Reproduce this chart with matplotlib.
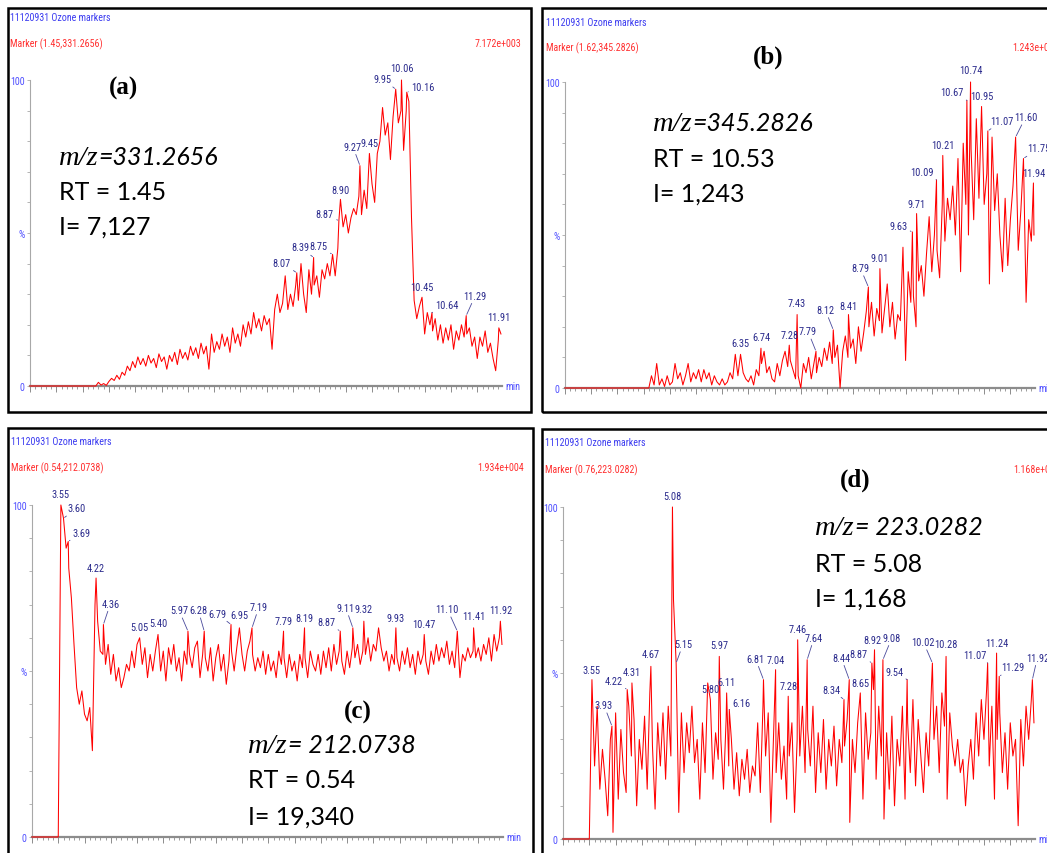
import numpy as np
import matplotlib
matplotlib.use('Agg')
import matplotlib.pyplot as plt
from matplotlib.patches import Rectangle
from matplotlib import font_manager

W, H = 1047, 854

# common time axis of the runs (min)
run_start, run_end = 3.0, 11.97
scan_step = 0.05

# (a) m/z 331.2656 - intensities (%) on the scan grid from a_start
a_start = 4.25
a_int = [0, 1.2, 0.3, 0.8, 0.2, 1.5, 2.5, 1.8, 3.5, 2.2,
         4.5, 3.5, 6.5, 5, 8, 6, 9.5, 7, 9, 6.5,
         10, 7.5, 9, 6, 10.5, 8, 9.5, 5.5, 10, 8,
         11, 7, 12, 9, 11, 8.5, 13, 10, 12.5, 9,
         14, 10.5, 13, 5.5, 17, 11, 14.5, 12, 17, 13,
         16, 11, 19, 14, 17, 13, 20, 16, 21, 17,
         24, 19, 22, 18, 23, 20, 22, 12, 25, 30,
         24, 27, 36, 25, 30, 26, 33, 28, 40, 30,
         24, 38, 30, 33, 36, 29, 38, 35, 40, 36,
         38, 36, 45, 55, 52, 56, 50, 55, 58, 56,
         62, 56, 64, 58, 66, 66, 60, 76, 80, 91,
         82, 86, 74, 88, 90, 86, 90, 77, 90, 93,
         55, 28, 22, 26, 25, 17, 24, 20, 18, 22,
         15, 20, 14, 19, 15, 20, 12, 18, 15, 20,
         16, 17, 19, 13, 16, 9, 16, 13, 18, 11,
         14, 9, 5, 15, 17]
a_pk_t = [8.07, 8.39, 8.75, 8.87, 8.90, 9.27, 9.45, 9.95, 10.06, 10.16, 10.45, 10.64, 11.29, 11.91]
a_pk_i = [37, 42, 43, 54, 61, 72, 76, 97, 100, 96, 29, 24, 23, 19]

# (b) m/z 345.2826
b_start = 4.60
b_int = [0, 4, 1, 8, 1, 3, 0.5, 4, 1, 2,
         8, 3, 5, 1, 4, 8, 2, 5, 3, 6,
         2, 6, 3, 5, 1, 4, 2, 1, 3, 1,
         2, 5, 3, 11, 4, 6, 5, 3, 2, 4,
         1, 6, 4, 8, 12, 5, 7, 3, 2, 8,
         4, 9, 12, 7, 9, 6, 3, 4, 0, 8,
         5, 10, 3, 8, 5, 10, 7, 13, 9, 15,
         8, 10, 14, 0, 12, 17, 10, 13, 16, 8,
         20, 12, 18, 25, 20, 28, 17, 26, 22, 18,
         26, 34, 20, 28, 16, 24, 22, 46, 9, 38,
         28, 30, 20, 35, 40, 30, 44, 56, 38, 50,
         45, 36, 60, 48, 62, 55, 66, 50, 75, 38,
         80, 60, 50, 78, 55, 88, 62, 70, 60, 70,
         34, 82, 58, 70, 50, 38, 62, 40, 55, 66,
         60, 45, 58, 60, 28, 55, 48, 50]
b_pk_t = [6.35, 6.74, 7.28, 7.43, 7.79, 8.12, 8.41, 8.79, 9.01, 9.63, 9.71, 10.09, 10.21,
          10.67, 10.74, 10.95, 11.07, 11.60, 11.75, 11.94]
b_pk_i = [11, 13, 14, 24, 12, 19, 24, 33, 39, 51, 57, 68, 76, 94, 100, 92, 84, 82, 75, 67]

# (c) m/z 212.0738
c_start = 3.50
c_int = [0, 100, 96, 87, 81, 72, 58, 45, 40, 44,
         37, 35, 39, 26, 70, 65, 56, 55, 52, 58,
         49, 55, 47, 51, 45, 48, 52, 50, 56, 51,
         58, 55, 52, 57, 48, 55, 50, 56, 55, 50,
         56, 47, 57, 52, 58, 50, 54, 47, 56, 52,
         55, 51, 57, 59, 48, 55, 54, 50, 57, 47,
         54, 58, 50, 55, 46, 53, 56, 50, 57, 55,
         55, 50, 56, 59, 55, 50, 54, 51, 56, 49,
         55, 50, 53, 48, 56, 52, 54, 48, 55, 50,
         53, 47, 55, 51, 54, 48, 56, 52, 50, 55,
         49, 56, 51, 57, 50, 58, 52, 56, 53, 49,
         56, 51, 57, 54, 58, 52, 56, 55, 60, 53,
         58, 56, 63, 57, 53, 56, 50, 55, 52, 54,
         50, 56, 52, 57, 51, 55, 49, 56, 52, 55,
         53, 49, 56, 52, 58, 53, 57, 54, 59, 52,
         56, 51, 55, 48, 55, 53, 57, 54, 56, 54,
         57, 53, 58, 55, 60, 53, 61, 56, 60, 58]
c_pk_t = [3.55, 3.60, 3.69, 4.22, 4.36, 5.05, 5.40, 5.97, 6.28, 6.79, 6.95, 7.19, 7.79, 8.19,
          8.87, 9.11, 9.32, 9.93, 10.47, 11.10, 11.41, 11.92]
c_pk_i = [100, 96, 89, 78, 64, 60, 61, 62, 62, 64, 63, 63, 62, 63, 62, 63, 65, 63, 61, 62, 63, 65]

# (d) m/z 223.0282
d_start = 3.50
d_int = [0, 40, 22, 40, 15, 27, 18, 7, 30, 2,
         38, 12, 33, 20, 14, 40, 25, 36, 10, 30,
         21, 37, 15, 44, 28, 9, 35, 22, 38, 18,
         40, 25, 72, 30, 8, 38, 20, 35, 26, 40,
         23, 30, 12, 35, 20, 47, 25, 18, 32, 24,
         30, 15, 36, 22, 30, 15, 26, 13, 24, 18,
         27, 14, 22, 19, 35, 14, 40, 25, 38, 5,
         30, 20, 35, 18, 28, 12, 25, 35, 8, 30,
         25, 40, 20, 33, 22, 40, 14, 32, 20, 36,
         15, 30, 22, 34, 16, 30, 23, 28, 36, 5,
         30, 20, 35, 28, 12, 38, 24, 32, 45, 18,
         40, 25, 6, 32, 15, 37, 10, 30, 22, 40,
         12, 35, 20, 42, 16, 36, 25, 14, 32, 22,
         45, 30, 40, 20, 44, 34, 12, 38, 28, 22,
         30, 20, 24, 10, 22, 30, 18, 38, 25, 42,
         30, 45, 22, 40, 12, 30, 38, 20, 32, 15,
         35, 25, 30, 4, 36, 22, 40, 30, 42, 35]
d_pk_t = [3.55, 3.93, 4.22, 4.31, 4.67, 5.08, 5.15, 5.80, 5.97, 6.11, 6.16, 6.81, 7.04, 7.28,
          7.46, 7.64, 8.34, 8.44, 8.65, 8.87, 8.92, 9.08, 9.54, 10.02, 10.28, 11.07, 11.24,
          11.29, 11.92]
d_pk_i = [48, 34, 45, 47, 52, 100, 53, 42, 55, 44, 39, 48, 51, 43, 60, 54, 42, 48, 44, 53,
          57, 54, 48, 53, 55, 53, 56, 49, 48]

tags = ['(a)', '(b)', '(c)', '(d)']
mz_text = ['=331.2656', '=345.2826', '= 212.0738', '= 223.0282']
rt_text = ['1.45', '10.53', '0.54', '5.08']
int_text = ['7,127', '1,243', '19,340', '1,168']
marker_text = ['Marker (1.45,331.2656)', 'Marker (1.62,345.2826)',
               'Marker (0.54,212.0738)', 'Marker (0.76,223.0282)']
scale_text = ['7.172e+003', '1.243e+003', '1.934e+004', '1.168e+003']
run_name = '11120931 Ozone markers'

# label offsets in pixels (dx, dy, leader line)
a_lab = [(-15, 10, 1), (-13, 10, 1), (-14, 8, 1), (-14, 7, 1), (0, 9, 0), (-7, 19, 1), (0, 10, 0),
         (-13, 10, 1), (0, 12, 0), (16, 5, 1), (0, 10, 0), (15, 8, 1), (9, 20, 1), (0, 11, 0)]
b_lab = [(0, 11, 0), (0, 11, 0), (0, 10, 0), (0, 12, 0), (-8, 20, 1), (-8, 20, 1), (0, 9, 0),
         (-8, 19, 1), (0, 11, 0), (-14, 6, 1), (0, 10, 0), (-15, 8, 1), (0, 10, 0), (-15, 8, 1),
         (0, 12, 0), (0, 10, 0), (14, 10, 1), (10, 20, 1), (15, 10, 1), (0, 10, 0)]
c_lab = [(0, 11, 0), (13, 10, 1), (13, 9, 1), (0, 10, 0), (7, 21, 1), (0, 11, 0), (0, 11, 0),
         (-9, 21, 1), (-6, 21, 1), (-14, 11, 1), (0, 13, 0), (7, 21, 1), (0, 10, 0), (0, 10, 0),
         (-14, 9, 1), (-7, 20, 1), (0, 12, 0), (0, 10, 0), (0, 10, 0), (-10, 22, 1), (0, 12, 0),
         (0, 11, 0)]
d_lab = [(0, 10, 0), (-8, 21, 1), (-13, 9, 1), (0, 11, 0), (0, 12, 0), (0, 11, 0), (7, 19, 1),
         (0, 11, 0), (0, 11, 0), (0, 11, 0), (12, 7, 1), (-8, 21, 1), (0, 10, 0), (0, 10, 0),
         (0, 11, 0), (7, 22, 1), (-13, 10, 1), (-8, 22, 1), (0, 10, 0), (-13, 9, 1), (-2, 10, 0),
         (9, 22, 1), (-13, 8, 1), (-9, 21, 1), (0, 12, 0), (-13, 8, 1), (0, 10, 0), (14, 9, 1),
         (5, 22, 1)]

# instrument-style labels use a narrow face when there is one
installed = {f.name for f in font_manager.fontManager.ttflist}
narrow_found = [n for n in ('Liberation Sans Narrow', 'Roboto Condensed', 'Arial Narrow') if n in installed]
narrow = narrow_found[0] if narrow_found else 'Liberation Sans'
small = 7.5 if narrow_found else 6.4

blue = '#3c3cf0'
navy = '#2a2a8c'
red = '#ff0000'
axis_grey = '#8c8c8c'


def fx(px):
    return px / W


def fy(py):
    return 1 - py / H


def build_trace(start, vals, pk_t, pk_i):
    vals = np.asarray(vals, float)
    t = np.round(start + scan_step * np.arange(len(vals)), 2)
    keep = ~np.isin(t, np.round(pk_t, 2))
    t = np.r_[run_start, t[keep], pk_t]
    y = np.r_[0.0, vals[keep], pk_i]
    order = np.argsort(t, kind='stable')
    return t[order], y[order]


fig = plt.figure(figsize=(W / 100, H / 100), dpi=100)

# panel frames
for x0, y0, x1, y1 in [(8, 9, 531, 413), (542, 9, 1070, 413), (8, 429, 533, 880), (542, 430, 1070, 880)]:
    fig.add_artist(Rectangle((fx(x0), fy(y1)), fx(x1) - fx(x0), (y1 - y0) / H,
                             transform=fig.transFigure, fill=False, ec='black', lw=1.8))

axes_px = [(30, 502, 81, 387), (565, 1035, 83, 389), (32, 503, 506, 838), (563, 1035, 508, 840)]
head_px = [(10, 18, 44, 521, 'right'), (546, 23, 48, 1012, 'left'),
           (11, 442, 468, 524, 'right'), (545, 443, 470, 1013, 'left')]
info_px = [((123, 88), 59, (165, 200, 235)), ((768, 57), 653, (131, 167, 202)),
           ((358, 712), 248, (753, 788, 825)), ((855, 480), 815, (535, 572, 607))]

series = [(a_start, a_int, a_pk_t, a_pk_i, a_lab),
          (b_start, b_int, b_pk_t, b_pk_i, b_lab),
          (c_start, c_int, c_pk_t, c_pk_i, c_lab),
          (d_start, d_int, d_pk_t, d_pk_i, d_lab)]

mz_parts = []
for k in range(4):
    x0, x1, ytop, ybot = axes_px[k]
    ax = fig.add_axes([fx(x0), fy(ybot), (x1 - x0) / W, (ybot - ytop) / H])
    ax.set_xlim(run_start, run_end)
    ax.set_ylim(0, 100)
    ax.spines['top'].set_visible(False)
    ax.spines['right'].set_visible(False)
    ax.spines['bottom'].set_color(axis_grey)
    ax.spines['bottom'].set_linewidth(1.6)
    ax.spines['left'].set_color('#a8a8a8')
    ax.spines['left'].set_linewidth(0.8)
    ax.set_xticks(np.arange(3.0, 12.0, 0.5))
    ax.set_xticks(np.arange(3.0, 12.0, 0.1), minor=True)
    ax.set_yticks([0, 50, 100])
    ax.set_yticklabels(['0', '%', '100'])
    ax.set_yticks(np.arange(0, 101, 10), minor=True)
    ax.tick_params(axis='x', which='major', length=4.5, width=0.7, color=axis_grey, labelbottom=False)
    ax.tick_params(axis='x', which='minor', length=2.5, width=0.6, color=axis_grey)
    ax.tick_params(axis='y', which='both', length=2.2, width=0.6, color='#a8a8a8', pad=1.5,
                   labelsize=small - 0.3, labelcolor='#5050ff')
    for lbl in ax.get_yticklabels():
        lbl.set_family(narrow)
    ax.text(1.008, 0, 'min', transform=ax.transAxes, ha='left', va='center', fontsize=small,
            color='#5050ff', family=narrow)

    start, vals, pk_t, pk_i, lab = series[k]
    t, y = build_trace(start, vals, pk_t, pk_i)
    ax.plot(t, y, color=red, lw=0.75, clip_on=False, zorder=3)

    for pt, pi, (dx, dy, lead) in zip(pk_t, pk_i, lab):
        arrow = dict(arrowstyle='-', color='#4a4a9c', lw=0.6, shrinkA=0, shrinkB=1) if lead else None
        ax.annotate(f'{pt:.2f}', xy=(pt, pi), xytext=(dx, dy), textcoords='offset pixels',
                    ha='center', va='center', fontsize=small, color=navy, family=narrow,
                    arrowprops=arrow, annotation_clip=False, zorder=4)

    # run header
    hx, hy1, hy2, sx, sha = head_px[k]
    fig.text(fx(hx), fy(hy1), run_name, ha='left', va='center', fontsize=small - 0.3, color=blue,
             family=narrow)
    fig.text(fx(hx), fy(hy2), marker_text[k], ha='left', va='center', fontsize=small - 0.3,
             color='#ff3030', family=narrow)
    fig.text(fx(sx), fy(hy2), scale_text[k], ha=sha, va='center', fontsize=small - 0.3,
             color='#ff3030', family=narrow)

    # panel tag and compound info
    (tx, ty), lx, (b1, b2, b3) = info_px[k]
    fig.text(fx(tx), fy(ty), tags[k], ha='center', va='center', fontsize=18,
             family='Liberation Serif', fontweight='bold')
    m = fig.text(fx(lx), fy(b1), 'm/z', ha='left', va='baseline', fontsize=20.5,
                 family='Liberation Serif', fontstyle='italic')
    mz_parts.append((m, b1, mz_text[k]))
    fig.text(fx(lx), fy(b2), 'RT = ' + rt_text[k], ha='left', va='baseline', fontsize=18, family='Lato')
    fig.text(fx(lx), fy(b3), 'I= ' + int_text[k], ha='left', va='baseline', fontsize=18, family='Lato')

fig.canvas.draw()
renderer = fig.canvas.get_renderer()
for m, base, txt in mz_parts:
    bb = m.get_window_extent(renderer)
    fig.text(bb.x1 / W, fy(base), txt, ha='left', va='baseline', fontsize=18,
             family='Lato', fontstyle='italic')

fig.savefig('out.png', dpi=100)
